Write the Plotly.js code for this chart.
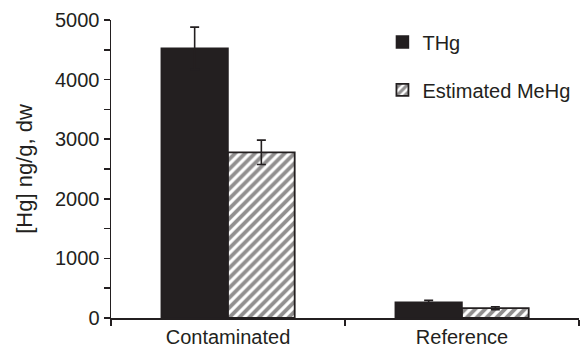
<!DOCTYPE html>
<html>
<head>
<meta charset="utf-8">
<script src="https://cdn.plot.ly/plotly-3.0.1.min.js"></script>
<style>html,body{margin:0;padding:0;background:#fff;}#chart{width:584px;height:354px;}</style>
</head>
<body>
<div id="chart"></div>
<script>
const categories = ["Contaminated", "Reference"];
const thgValues = [4525, 265];
const thgErrors = [355, 30];
const mehgValues = [2780, 165];
const mehgErrors = [205, 25];
const seriesNames = ["THg", "Estimated MeHg"];
const yTicks = [0, 1000, 2000, 3000, 4000, 5000];

const ink = "#231f20";
const font = {family: "Liberation Sans, Arial, sans-serif", size: 20, color: ink};

const traces = [
  {
    type: "bar", name: seriesNames[0], x: categories, y: thgValues,
    marker: {color: ink, line: {color: ink, width: 1.5}},
    error_y: {type: "data", array: thgErrors, visible: true, color: ink, thickness: 1.6, width: 4.5},
    legendgroup: "a"
  },
  {
    type: "bar", name: seriesNames[1], x: categories, y: mehgValues,
    marker: {color: "#ffffff", line: {color: ink, width: 1.8},
      pattern: {shape: "/", fgcolor: ink, bgcolor: "#ffffff", size: 7, solidity: 0.55, fillmode: "overlay"}},
    error_y: {type: "data", array: mehgErrors, visible: true, color: ink, thickness: 1.6, width: 4.5},
    legendgroup: "b"
  }
];

const layout = {
  width: 584, height: 354,
  margin: {l: 111, r: 5, t: 20, b: 36},
  paper_bgcolor: "#fff", plot_bgcolor: "#fff",
  font: font,
  barmode: "group",
  bargap: 0.43, bargroupgap: 0,
  showlegend: true,
  legend: {x: 0.58, y: 0.992, xanchor: "left", yanchor: "top", font: {size: 20, color: ink},
    bgcolor: "rgba(0,0,0,0)", tracegroupgap: 19, traceorder: "grouped"},
  xaxis: {
    type: "category", range: [-0.5, 1.5], showline: true, linecolor: ink, linewidth: 1.5,
    ticks: "outside", tickson: "boundaries", ticklen: 6, tickwidth: 1.5, tickcolor: ink,
    showgrid: false, zeroline: false, tickfont: font, fixedrange: true
  },
  yaxis: {
    range: [0, 5000], tickvals: yTicks, ticktext: yTicks.map(String),
    showline: true, linecolor: ink, linewidth: 1.5,
    ticks: "outside", ticklen: 6, tickwidth: 1.5, tickcolor: ink,
    minor: {dtick: 500, ticks: "outside", ticklen: 6, tickwidth: 1.5, tickcolor: ink, showgrid: false},
    showgrid: false, zeroline: false, tickfont: font,
    title: {text: "[Hg] ng/g, dw", font: {family: font.family, size: 22, color: ink}, standoff: 16}
  }
};

Plotly.newPlot("chart", traces, layout, {displayModeBar: false, staticPlot: true});
</script>
</body>
</html>
